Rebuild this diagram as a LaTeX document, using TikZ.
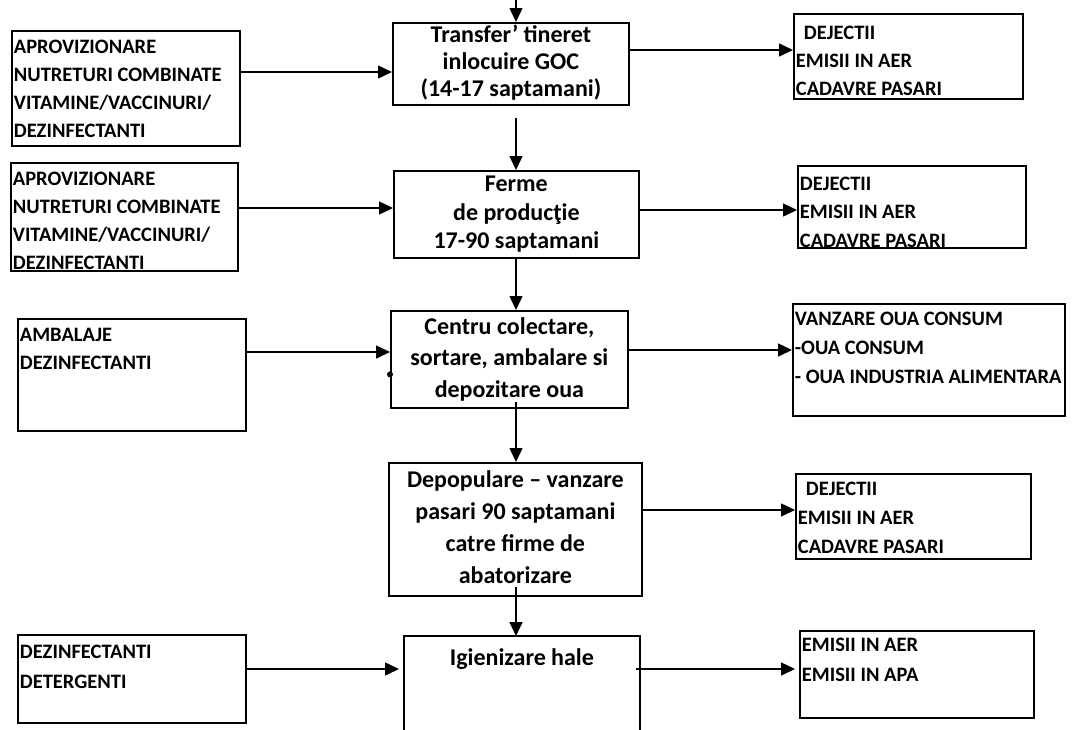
\documentclass[tikz,border=0pt]{standalone}
\usepackage{fontspec}
\setmainfont{Carlito}
\usetikzlibrary{arrows.meta}

\begin{document}
\begin{tikzpicture}[x=1pt, y=-1pt, line width=1.8pt,
    box/.style={draw, anchor=north west, inner sep=0pt},
    side/.style={anchor=north west, inner xsep=2pt, inner ysep=3pt, font=\fontsize{20.5}{28}\selectfont\bfseries},
    stage/.style={align=center, font=\fontsize{24}{27}\selectfont\bfseries},
    flow/.style={-{Triangle[length=14pt, width=13pt]}, line width=1.5pt}]
    \useasboundingbox (0,0) rectangle (1082,729);
    % inputs
    \node [box, minimum width=228pt, minimum height=115pt] (aprov1) at (11,30) {};
    \node [side] (aprov1t) at (aprov1.north west) {\begin{tabular}{@{}l@{}}APROVIZIONARE\\NUTRETURI COMBINATE\\VITAMINE/VACCINURI/\\DEZINFECTANTI\end{tabular}};
    \node [box, minimum width=227pt, minimum height=108pt] (aprov2) at (10,162) {};
    \node [side] (aprov2t) at (aprov2.north west) {\begin{tabular}{@{}l@{}}APROVIZIONARE\\NUTRETURI COMBINATE\\VITAMINE/VACCINURI/\\DEZINFECTANTI\end{tabular}};
    \node [box, minimum width=228pt, minimum height=112pt] (ambalaje) at (17,318) {};
    \node [side] (ambalajet) at (ambalaje.north west) {\begin{tabular}{@{}l@{}}AMBALAJE\\DEZINFECTANTI\end{tabular}};
    \node [box, minimum width=228pt, minimum height=88pt] (detergenti) at (17,634) {};
    \node [side, font=\fontsize{20.5}{30}\selectfont\bfseries] (detergentit) at (detergenti.north west) {\begin{tabular}{@{}l@{}}DEZINFECTANTI\\DETERGENTI\end{tabular}};
    % stages
    \node [box, stage, minimum width=236pt, minimum height=82pt] (transfer) at (392,22) {\begin{tabular}{@{}c@{}}Transfer' tineret\\inlocuire GOC\\(14-17 saptamani)\end{tabular}};
    \node [box, stage, minimum width=245pt, minimum height=87pt, font=\fontsize{24}{28.5}\selectfont\bfseries] (ferme) at (393,170) {\begin{tabular}{@{}c@{}}Ferme\\de producţie\\17-90 saptamani\end{tabular}};
    \node [box, stage, minimum width=237pt, minimum height=97pt, font=\fontsize{24}{31.5}\selectfont\bfseries] (centru) at (390,310) {\begin{tabular}{@{}c@{}}Centru colectare,\\sortare, ambalare si\\depozitare oua\end{tabular}};
    \node [box, stage, minimum width=253pt, minimum height=133pt, font=\fontsize{24}{32}\selectfont\bfseries] (depopulare) at (388,462) {\begin{tabular}{@{}c@{}}Depopulare -- vanzare\\pasari 90 saptamani\\catre firme de\\abatorizare\end{tabular}};
    \node [anchor=north west, inner sep=0pt, minimum width=234pt, minimum height=100pt] (igienizare) at (404,636) {};
    \node [stage, anchor=north] (igienizaret) at ([yshift=-8pt]igienizare.north) {Igienizare hale};
    \draw (igienizare.south west) -- (igienizare.north west) -- (igienizare.north east) -- (igienizare.south east);
    % outputs
    \node [box, minimum width=229pt, minimum height=85pt] (dejectii1) at (793,13) {};
    \node [side, inner ysep=6pt] (dejectii1t) at (dejectii1.north west) {\begin{tabular}{@{}l@{}}\hspace{8pt}DEJECTII\\EMISII IN AER\\CADAVRE PASARI\end{tabular}};
    \node [box, minimum width=228pt, minimum height=82pt] (dejectii2) at (797,165) {};
    \node [side, inner ysep=4.5pt, font=\fontsize{20.5}{28.5}\selectfont\bfseries] (dejectii2t) at (dejectii2.north west) {\begin{tabular}{@{}l@{}}DEJECTII\\EMISII IN AER\\CADAVRE PASARI\end{tabular}};
    \node [box, minimum width=272pt, minimum height=112pt] (vanzare) at (792,303) {};
    \node [side, inner ysep=1pt, font=\fontsize{20.5}{29}\selectfont\bfseries] (vanzaret) at (vanzare.north west) {\begin{tabular}{@{}l@{}}VANZARE OUA CONSUM\\-OUA CONSUM\\- OUA INDUSTRIA ALIMENTARA\end{tabular}};
    \node [box, minimum width=235pt, minimum height=85pt] (dejectii3) at (795,473) {};
    \node [side, inner ysep=1pt, font=\fontsize{20.5}{29}\selectfont\bfseries] (dejectii3t) at (dejectii3.north west) {\begin{tabular}{@{}l@{}}\hspace{8pt}DEJECTII\\EMISII IN AER\\CADAVRE PASARI\end{tabular}};
    \node [box, minimum width=234pt, minimum height=87pt] (emisii) at (799,630) {};
    \node [side, inner ysep=0pt, font=\fontsize{20.5}{30}\selectfont\bfseries] (emisiit) at (emisii.north west) {\begin{tabular}{@{}l@{}}EMISII IN AER\\EMISII IN APA\end{tabular}};
    % arrow levels
    \coordinate (col) at (516,0);
    \coordinate (in1) at (0,72);
    \coordinate (out1) at (0,50);
    \coordinate (in2) at (0,208);
    \coordinate (out2) at (0,210);
    \coordinate (in3) at (0,352);
    \coordinate (out3) at (0,350);
    \coordinate (out4) at (0,510);
    \coordinate (in5) at (0,669);
    % main flow
    \path [flow] (col) edge (col |- transfer.north);
    \path [flow, shorten <=12pt] (col |- transfer.south) edge (col |- ferme.north);
    \path [flow] (col |- ferme.south) edge (col |- centru.north);
    \path [flow, shorten <=-7pt] (col |- centru.south) edge (col |- depopulare.north);
    \path [flow, shorten <=-10pt] (col |- depopulare.south) edge (col |- igienizare.north);
    % inputs and outputs
    \path [flow] (aprov1.east |- in1) edge (transfer.west |- in1);
    \path [flow] (aprov2.east |- in2) edge (ferme.west |- in2);
    \path [flow] (ambalaje.east |- in3) edge (centru.west |- in3);
    \path [flow, shorten >=5pt] (detergenti.east |- in5) edge (igienizare.west |- in5);
    \path [flow] (transfer.east |- out1) edge (dejectii1.west |- out1);
    \path [flow] (ferme.east |- out2) edge (dejectii2.west |- out2);
    \path [flow] (centru.east |- out3) edge (vanzare.west |- out3);
    \path [flow] (depopulare.east |- out4) edge (dejectii3.west |- out4);
    \path [flow, shorten <=-4pt, shorten >=4pt] (igienizare.east |- in5) edge (emisii.west |- in5);
    \fill ([yshift=-15pt]centru.west) circle [radius=3pt];
\end{tikzpicture}
\end{document}
